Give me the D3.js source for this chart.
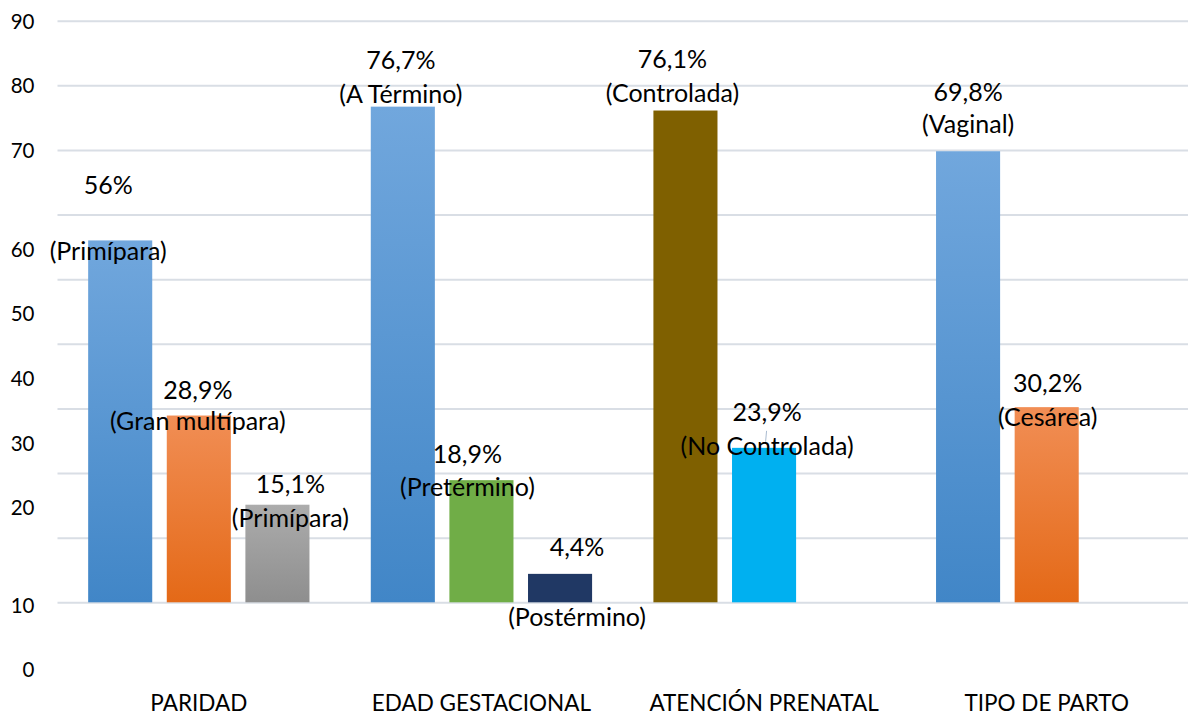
<!DOCTYPE html>
<html><head><meta charset="utf-8">
<script src="https://cdn.jsdelivr.net/npm/d3@7/dist/d3.min.js"></script>
<style>body{margin:0;background:#fff}svg{display:block}</style>
</head><body>
<svg id="c" width="1188" height="718"></svg>
<script>
// ---- data ----
const categories = ["PARIDAD", "EDAD GESTACIONAL", "ATENCIÓN PRENATAL", "TIPO DE PARTO"];
const series1Names = ["Primípara", "A Término", "Controlada", "Vaginal"];
const series1Values = [56, 76.7, 76.1, 69.8];
const series2Names = ["Gran multípara", "Pretérmino", "No Controlada", "Cesárea"];
const series2Values = [28.9, 18.9, 23.9, 30.2];
const series3Names = ["Primípara", "Postérmino", null, null];
const series3Values = [15.1, 4.4, null, null];
const yTicks = [0, 10, 20, 30, 40, 50, 60, 70, 80, 90];

// ---- styles / layout ----
const fills = [
  ["url(#gBlue)", "url(#gBlue)", "#7f6000", "url(#gBlue)"],
  ["url(#gOrange)", "#70ad47", "#00b0f0", "url(#gOrange)"],
  ["url(#gGray)", "#203864", null, null]
];
// label nudges in px relative to the bar's top centre: [dx, dyPercent, dyName]
const nudges = [
  [[-12, -55, 11], [-2, -46, -12], [-13, -51, -17], [0, -59, -27]],
  [[-1, -25, 6], [-14, -26, 7], [3, -36, -2], [1, -24, 10]],
  [[13, -20, 14], [17, -27, 43], null, null]
];

const FONT = "Lato, 'Open Sans', sans-serif";
const svg = d3.select("#c");
const defs = svg.append("defs");
function grad(id, top, bottom) {
  const g = defs.append("linearGradient").attr("id", id).attr("x1", 0).attr("y1", 0).attr("x2", 0).attr("y2", 1);
  g.append("stop").attr("offset", "0%").attr("stop-color", top);
  g.append("stop").attr("offset", "100%").attr("stop-color", bottom);
}
grad("gBlue", "#71a7dd", "#4186c7");
grad("gOrange", "#f18e55", "#e46917");
grad("gGray", "#acacac", "#8e8e8e");

const x = d3.scaleBand().domain(categories).range([57.5, 1188]);
const slot = d3.scaleBand().domain([0, 1, 2]).range([0, x.bandwidth()]).paddingInner(0.185).paddingOuter(0.39);
const y = d3.scaleLinear().domain([0, 90]).range([602.3, 20.7]);

// gridlines
svg.append("g").attr("transform", "translate(57.5,0)")
  .call(d3.axisLeft(y).tickValues(yTicks).tickSize(-(1188 - 57.5)).tickFormat(""))
  .call(g => g.select(".domain").remove())
  .call(g => g.selectAll("line").attr("stroke", "#d9dee5").attr("stroke-width", 2));

// tick labels (offset as in the original artwork)
const tickShift = v => v >= 70 ? 1 : (v >= 20 ? 35 : 68);
svg.append("g").selectAll("text").data(yTicks).join("text")
  .attr("x", 34.5).attr("y", v => y(v) + tickShift(v))
  .attr("dy", "0.35em").attr("text-anchor", "end")
  .attr("font-family", FONT).attr("font-size", 20.5).attr("fill", "#000")
  .text(d => d);

// bars
const seriesVals = [series1Values, series2Values, series3Values];
const seriesNames = [series1Names, series2Names, series3Names];
const bars = [];
seriesVals.forEach((vals, s) => vals.forEach((v, c) => {
  if (v == null) return;
  bars.push({ s, c, v, name: seriesNames[s][c], fill: fills[s][c], nudge: nudges[s][c] });
}));
svg.append("g").selectAll("rect").data(bars).join("rect")
  .attr("x", d => x(categories[d.c]) + slot(d.s))
  .attr("width", slot.bandwidth())
  .attr("y", d => y(d.v))
  .attr("height", d => y(0) - y(d.v))
  .attr("fill", d => d.fill);

// leader line for "No Controlada"
const nc = bars.find(b => b.s === 1 && b.c === 2);
svg.append("line")
  .attr("x1", x(categories[nc.c]) + slot(nc.s) + slot.bandwidth() / 2 + 2.5).attr("y1", y(nc.v) - 17)
  .attr("x2", x(categories[nc.c]) + slot(nc.s) + slot.bandwidth() / 2 + 1.5).attr("y2", y(nc.v) - 6)
  .attr("stroke", "#a9bbd0").attr("stroke-width", 1);

// data labels
const fmt = v => (Number.isInteger(v) ? String(v) : v.toFixed(1).replace(".", ",")) + "%";
const lab = svg.append("g").attr("font-family", FONT).attr("font-size", 25).attr("fill", "#000").attr("text-anchor", "middle");
bars.forEach(d => {
  const cx = x(categories[d.c]) + slot(d.s) + slot.bandwidth() / 2 + d.nudge[0];
  const top = y(d.v);
  lab.append("text").attr("x", cx).attr("y", top + d.nudge[1]).attr("dy", "0.35em").text(fmt(d.v));
  lab.append("text").attr("x", cx).attr("y", top + d.nudge[2]).attr("dy", "0.35em").text("(" + d.name + ")");
});

// category labels
svg.append("g").selectAll("text").data(categories).join("text")
  .attr("x", d => x(d) + x.bandwidth() / 2).attr("y", 703).attr("dy", "0.35em")
  .attr("text-anchor", "middle")
  .attr("font-family", FONT).attr("font-size", 22.5).attr("fill", "#000")
  .text(d => d);
</script>
</body></html>
